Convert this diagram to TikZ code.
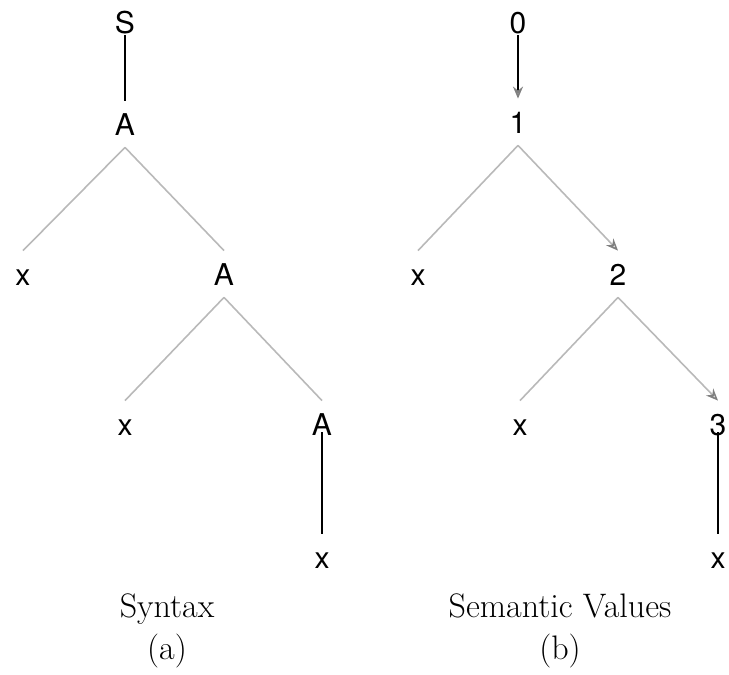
\documentclass[tikz,border=0pt]{standalone}
\usepackage{fontspec}
\setsansfont{TeX Gyre Heros}
\usetikzlibrary{arrows.meta}

\begin{document}
\begin{tikzpicture}[x=0.5pt, y=-0.5pt,
    lbl/.style={font=\sffamily\fontsize{15}{18}\selectfont, anchor=base, text height=11pt, text depth=0pt, inner xsep=2pt, inner ysep=6pt},
    capt/.style={font=\fontsize{17}{20}\selectfont, anchor=base, inner sep=0pt},
    br/.style={draw=gray!55, line width=0.8pt},
    up/.style={draw=black, line width=0.9pt},
    val/.style={-{Stealth[open, length=6pt, width=5pt, color=gray]}}]
  \useasboundingbox (0,0) rectangle (729,675);

  % ---------------- syntax tree ----------------
  \node[lbl] (s)  at (125, 33) {S};
  \node[lbl] (a1) at (125,135) {A};
  \node[lbl] (x1) at ( 23,285) {x};
  \node[lbl] (a2) at (224,285) {A};
  \node[lbl] (x2) at (125,435) {x};
  \node[lbl] (a3) at (322,435) {A};
  \node[lbl] (x3) at (322,568) {x};
  \draw[up, shorten <=-5pt] (s) -- (a1);
  \draw[br] (a1.south) -- (x1.north);
  \draw[br] (a1.south) -- (a2.north);
  \draw[br] (a2.south) -- (x2.north);
  \draw[br] (a2.south) -- (a3.north);
  \draw[up, shorten <=-7.5pt] (a3) -- (x3);
  \node[capt] (capa) at (167,617) {Syntax};
  \node[capt] (laba) at (167,659) {(a)};

  % ---------------- semantic values ----------------
  \node[lbl] (v0) at (518, 33) {0};
  \node[lbl] (v1) at (518,133) {1};
  \node[lbl] (y1) at (418,285) {x};
  \node[lbl] (v2) at (618,285) {2};
  \node[lbl] (y2) at (520,435) {x};
  \node[lbl] (v3) at (718,435) {3};
  \node[lbl] (y3) at (718,568) {x};
  \draw[up, val, shorten <=-5pt] (v0) -- (v1);
  \draw[br] (v1.south) -- (y1.north);
  \draw[br, val] (v1.south) -- (v2.north);
  \draw[br] (v2.south) -- (y2.north);
  \draw[br, val] (v2.south) -- (v3.north);
  \draw[up, shorten <=-7.5pt] (v3) -- (y3);
  \node[capt] (capb) at (560,617) {Semantic Values};
  \node[capt] (labb) at (560,659) {(b)};
\end{tikzpicture}
\end{document}
